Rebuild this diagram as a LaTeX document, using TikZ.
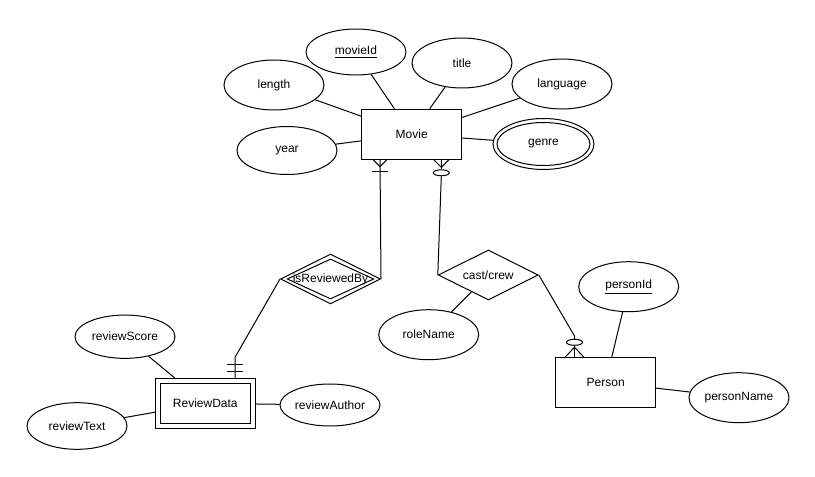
\documentclass[tikz,border=0pt]{standalone}
\usepackage{fontspec}
\setmainfont{Liberation Sans}
\usetikzlibrary{shapes.geometric}
\begin{document}
% one unit = 0.75pt, y grows downwards
\begin{tikzpicture}[x=0.75pt,y=-0.75pt,
  every node/.style={font=\fontsize{9pt}{11pt}\selectfont, inner sep=0pt},
  attr/.style={ellipse, draw, line width=0.75pt, minimum width=75pt, minimum height=37.5pt},
  entity/.style={rectangle, draw, line width=0.75pt, minimum width=75pt, minimum height=37.5pt},
  rel/.style={diamond, draw, line width=0.75pt, minimum width=75pt, minimum height=37.5pt},
  link/.style={draw, line width=0.75pt},
  tick/.style={draw, line width=0.75pt},
  optmark/.style={ellipse, draw, line width=0.75pt, minimum width=12pt, minimum height=4.5pt}]
\useasboundingbox (0,0) rectangle (815,477);

% entities
\node[entity] (movie) at (411.7,134.3) {Movie};
\node[entity] (person) at (605.7,382.3) {Person};
\node[entity] (review) at (205.3,403.3) {};
\node[entity, minimum width=67.5pt, minimum height=30pt] (reviewin) at (205.3,403.3) {ReviewData};

% relationships
\node[rel] (reviewed) at (330.5,279) {};
\node[rel, minimum width=65pt, minimum height=30pt, label=center:isReviewedBy] (reviewedin) at (330.5,279) {};
\node[rel, label=center:cast/crew] (cast) at (488.3,275) {};

% attributes of Movie
\node[attr, minimum height=34.5pt] (movieId) at (356,52) {\underline{movieId}};
\node[attr] (title) at (462,63) {title};
\node[attr] (length) at (274,85) {length};
\node[attr] (language) at (562,84) {language};
\node[attr, minimum height=36pt] (year) at (287,150.5) {year};
\node[attr, minimum width=75.75pt, minimum height=38.25pt] (genre) at (543.5,144) {};
\node[attr, minimum width=69.75pt, minimum height=32.25pt] (genrein) at (543.5,144) {genre};

% attributes of ReviewData
\node[attr, minimum height=32.5pt] (score) at (125,336.7) {reviewScore};
\node[attr, minimum height=35pt] (text) at (77,426) {reviewText};
\node[attr, minimum height=31.5pt] (author) at (330,405) {reviewAuthor};

% attribute of cast/crew
\node[attr] (role) at (428.7,334.7) {roleName};

% attributes of Person
\node[attr] (personId) at (628.7,286.7) {\underline{personId}};
\node[attr] (personName) at (739,397.7) {personName};

% attribute links
\draw[link] (movie) -- (movieId);
\draw[link] (movie) -- (title);
\draw[link] (movie) -- (length);
\draw[link] (movie) -- (language);
\draw[link] (movie) -- (year);
\draw[link] (movie) -- (genre);
\draw[link] (review) -- (score);
\draw[link] (review) -- (text);
\draw[link] (review) -- (author);
\draw[link] (cast) -- (role);
\draw[link] (person) -- (personId);
\draw[link] (person) -- (personName);

% Movie -- isReviewedBy -- ReviewData
\coordinate (mvL) at (380,159.3);
\coordinate (mvLv) at (380,166.7);
\coordinate (mvLa) at (372.7,159.3);
\coordinate (mvLb) at (387.3,159.3);
\coordinate (mvLbar1) at (372.3,171.7);
\coordinate (mvLbar2) at (388.3,171.7);
\draw[link] (mvL) -- (reviewed.east);
\draw[tick] (mvLa) -- (mvLv) -- (mvLb);
\draw[tick] (mvLbar1) -- (mvLbar2);

\coordinate (rdTop) at (235,378.3);
\coordinate (rdBend) at (235,357.3);
\coordinate (rdBar1a) at (227.3,365);
\coordinate (rdBar1b) at (243.3,365);
\coordinate (rdBar2a) at (227.3,371.7);
\coordinate (rdBar2b) at (243.3,371.7);
\draw[link] (reviewed.west) -- (rdBend) -- (rdTop);
\draw[tick] (rdBar1a) -- (rdBar1b);
\draw[tick] (rdBar2a) -- (rdBar2b);

% Movie -- cast/crew -- Person
\coordinate (mvR) at (441.3,159.3);
\coordinate (mvRv) at (441.3,167.3);
\coordinate (mvRa) at (433.3,159.3);
\coordinate (mvRb) at (449.3,159.3);
\node[optmark] (mvO) at (441.3,172.8) {};
\draw[tick] (mvR) -- (mvO.north);
\draw[tick] (mvRa) -- (mvRv) -- (mvRb);
\draw[link] (mvO.south) -- (cast.west);

\coordinate (psTop) at (574.5,357.3);
\coordinate (psV) at (574.5,347.3);
\coordinate (psA) at (565,357.3);
\coordinate (psB) at (584,357.3);
\coordinate (psBend) at (574.5,336);
\node[optmark] (psO) at (574.5,342.3) {};
\draw[link] (cast.east) -- (psBend) -- (psO.north);
\draw[tick] (psO.south) -- (psTop);
\draw[tick] (psA) -- (psV) -- (psB);
\end{tikzpicture}
\end{document}
